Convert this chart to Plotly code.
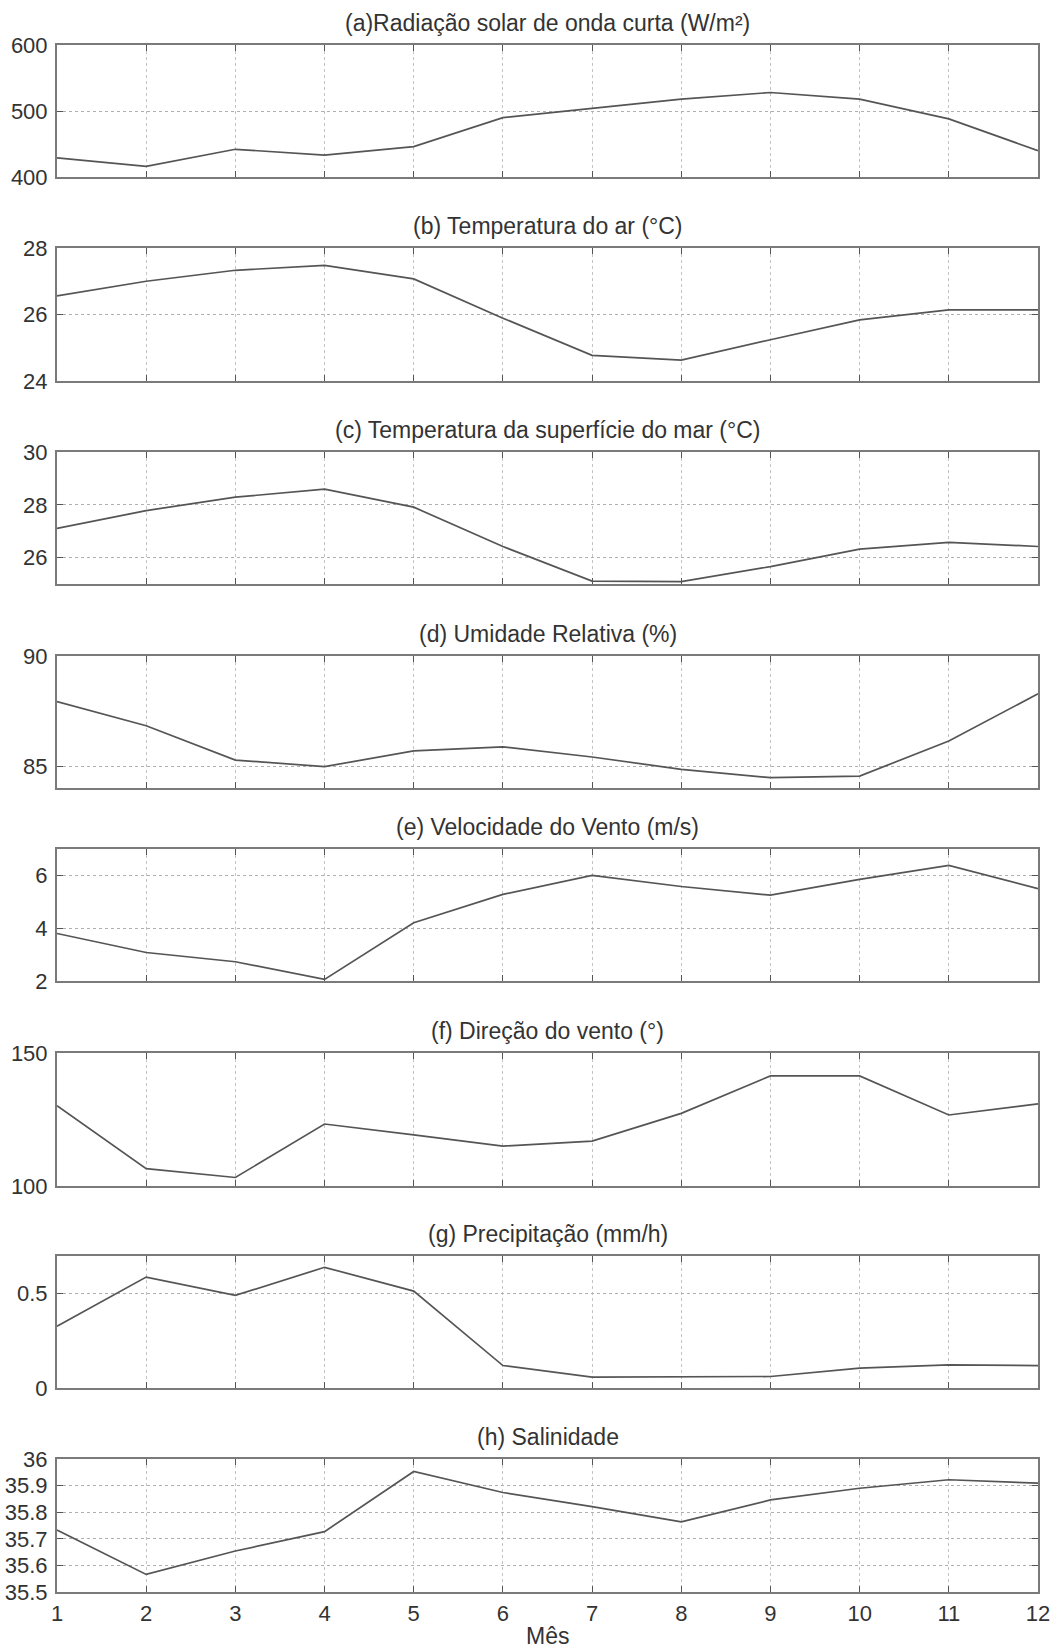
import plotly.graph_objects as go

# ---------------- data ----------------
months = [1, 2, 3, 4, 5, 6, 7, 8, 9, 10, 11, 12]

radiacao = [429, 416, 442, 433, 446, 490, 504, 518, 528, 518, 488, 440]
temp_ar = [26.56, 27.0, 27.33, 27.48, 27.07, 25.89, 24.77, 24.63, 25.24, 25.84, 26.14, 26.14]
tsm = [27.11, 27.78, 28.29, 28.59, 27.91, 26.42, 25.11, 25.09, 25.66, 26.32, 26.58, 26.42]
umidade = [87.93, 86.83, 85.27, 84.97, 85.69, 85.87, 85.41, 84.85, 84.47, 84.54, 86.14, 88.28]
vel_vento = [3.80, 3.08, 2.73, 2.06, 4.21, 5.28, 6.00, 5.58, 5.25, 5.85, 6.38, 5.50]
dir_vento = [130.2, 106.5, 103.2, 123.3, 119.2, 115.0, 116.9, 127.3, 141.4, 141.4, 126.7, 130.9]
precip = [0.328, 0.588, 0.491, 0.640, 0.514, 0.119, 0.058, 0.058, 0.061, 0.105, 0.123, 0.119]
salinidade = [35.733, 35.566, 35.654, 35.727, 35.953, 35.874, 35.821, 35.764, 35.846, 35.890, 35.922, 35.909]

titles = [
    "(a)Radiação solar de onda curta (W/m²)",
    "(b) Temperatura do ar (°C)",
    "(c) Temperatura da superfície do mar (°C)",
    "(d) Umidade Relativa (%)",
    "(e) Velocidade do Vento (m/s)",
    "(f) Direção do vento (°)",
    "(g) Precipitação (mm/h)",
    "(h) Salinidade",
]
series = [radiacao, temp_ar, tsm, umidade, vel_vento, dir_vento, precip, salinidade]

y_ranges = [[400, 600], [24, 28], [25, 30], [84, 90], [2, 7], [100, 150], [0, 0.7], [35.5, 36]]
y_tickvals = [
    [400, 500, 600],
    [24, 26, 28],
    [26, 28, 30],
    [85, 90],
    [2, 4, 6],
    [100, 150],
    [0, 0.5],
    [35.5, 35.6, 35.7, 35.8, 35.9, 36],
]
y_ticktext = [
    ["400", "500", "600"],
    ["24", "26", "28"],
    ["26", "28", "30"],
    ["85", "90"],
    ["2", "4", "6"],
    ["100", "150"],
    ["0", "0.5"],
    ["35.5", "35.6", "35.7", "35.8", "35.9", "36"],
]
x_ticktext = [str(m) for m in months]
x_title = "Mês"

# ---------------- layout (pixels) ----------------
W, H = 1060, 1649
left_px, right_px = 57, 1038
panels_px = [(45, 177), (248, 381), (452, 584), (656, 788),
             (849, 981), (1053, 1186), (1256, 1388), (1459, 1592)]

FONT = "Liberation Sans, Arial, sans-serif"
FS_TICK = 22
FS_TITLE = 23
TEXT_COLOR = "#333333"
LINE_COLOR = "#555555"
FRAME_COLOR = "#7a7a7a"


def py(px):
    return 1 - px / H


fig = go.Figure()
annotations = []
n = len(series)
for i in range(n):
    k = i + 1
    xa = "x" if k == 1 else f"x{k}"
    ya = "y" if k == 1 else f"y{k}"
    fig.add_trace(go.Scatter(
        x=months, y=series[i], mode="lines",
        line=dict(color=LINE_COLOR, width=1.7),
        xaxis=xa, yaxis=ya, showlegend=False, hoverinfo="x+y",
    ))
    top, bot = panels_px[i]
    last = (i == n - 1)
    fig.layout[f"xaxis{'' if k == 1 else k}"] = dict(
        domain=[left_px / W, right_px / W],
        anchor=ya,
        range=[1, 12],
        tickmode="array",
        tickvals=months,
        ticktext=x_ticktext,
        showticklabels=last,
        ticks="inside", ticklen=6, tickwidth=1.2, tickcolor="#555555",
        showline=True, linecolor=FRAME_COLOR, linewidth=2, mirror="ticks",
        showgrid=True, gridcolor="#c4c4c4", griddash="dot", gridwidth=1,
        zeroline=False, automargin=False,
        tickfont=dict(family=FONT, size=FS_TICK, color=TEXT_COLOR),
        ticklabelstandoff=1,
    )
    fig.layout[f"yaxis{'' if k == 1 else k}"] = dict(
        domain=[py(bot), py(top)],
        anchor=xa,
        range=y_ranges[i],
        tickmode="array",
        tickvals=y_tickvals[i],
        ticktext=y_ticktext[i],
        ticks="inside", ticklen=6, tickwidth=1.2, tickcolor="#555555",
        showline=True, linecolor=FRAME_COLOR, linewidth=2, mirror="ticks",
        showgrid=True, gridcolor="#b0b0b0", griddash="dot", gridwidth=1.2,
        zeroline=False, automargin=False,
        tickfont=dict(family=FONT, size=FS_TICK, color=TEXT_COLOR),
        ticklabelstandoff=3,
    )
    annotations.append(dict(
        text=titles[i], x=(left_px + right_px) / 2 / W, y=py(top - 22),
        xref="paper", yref="paper", xanchor="center", yanchor="middle",
        showarrow=False, font=dict(family=FONT, size=FS_TITLE, color=TEXT_COLOR),
    ))

annotations.append(dict(
    text=x_title, x=(left_px + right_px) / 2 / W, y=py(1636),
    xref="paper", yref="paper", xanchor="center", yanchor="middle",
    showarrow=False, font=dict(family=FONT, size=FS_TITLE, color=TEXT_COLOR),
))

fig.update_layout(
    width=W, height=H,
    margin=dict(l=0, r=0, t=0, b=0, autoexpand=False),
    paper_bgcolor="white", plot_bgcolor="white",
    annotations=annotations,
    font=dict(family=FONT, size=FS_TICK, color=TEXT_COLOR),
)

fig.write_html(
    "out.html",
    config={"displayModeBar": False},
    post_script="document.body.style.margin='0';document.body.style.overflow='hidden';",
)
